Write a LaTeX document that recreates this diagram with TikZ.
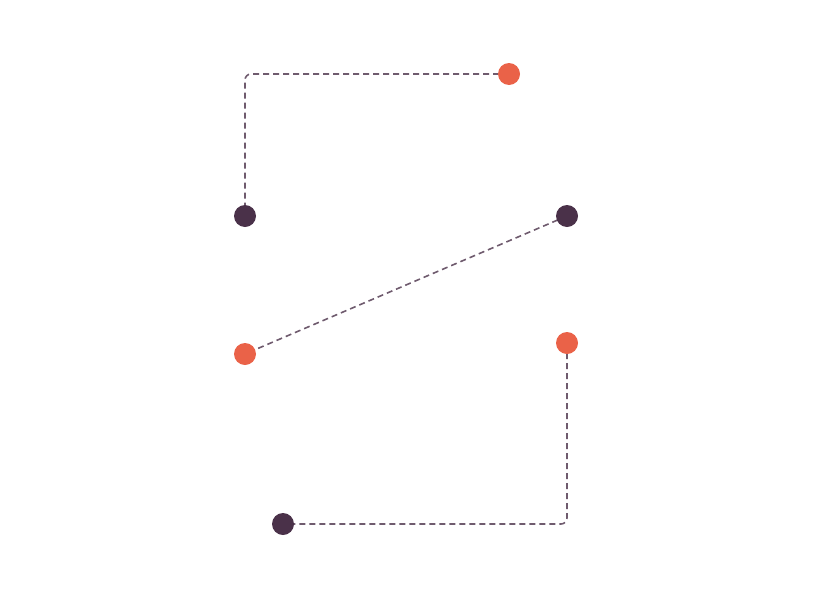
\documentclass[tikz,border=0pt]{standalone}
\begin{document}
\begin{tikzpicture}[x=1pt,y=-1pt,
  dot/.style={circle,inner sep=0pt,minimum size=22pt},
  o/.style={dot,fill=orgc},
  d/.style={dot,fill=darkc},
  link/.style={draw=linec,line width=1.6pt,dash pattern=on 6pt off 4pt,rounded corners=6pt}]
\definecolor{orgc}{HTML}{EA6248}
\definecolor{darkc}{HTML}{4A3149}
\definecolor{linec}{HTML}{6F5B6E}
\path[use as bounding box] (0,0) rectangle (814,600);
\coordinate (pa) at (509,74);
\coordinate (pb) at (245,216);
\coordinate (pc) at (567,216);
\coordinate (pe) at (245,354);
\coordinate (pf) at (567,343);
\coordinate (pg) at (283,524);
\draw[link] (pa) -| (pb);
\draw[link] (pc) -- (pe);
\draw[link] (pf) |- (pg);
\node[o] (a) at (pa) {};
\node[d] (b) at (pb) {};
\node[d] (c) at (pc) {};
\node[o] (e) at (pe) {};
\node[o] (f) at (pf) {};
\node[d] (g) at (pg) {};
\end{tikzpicture}
\end{document}
